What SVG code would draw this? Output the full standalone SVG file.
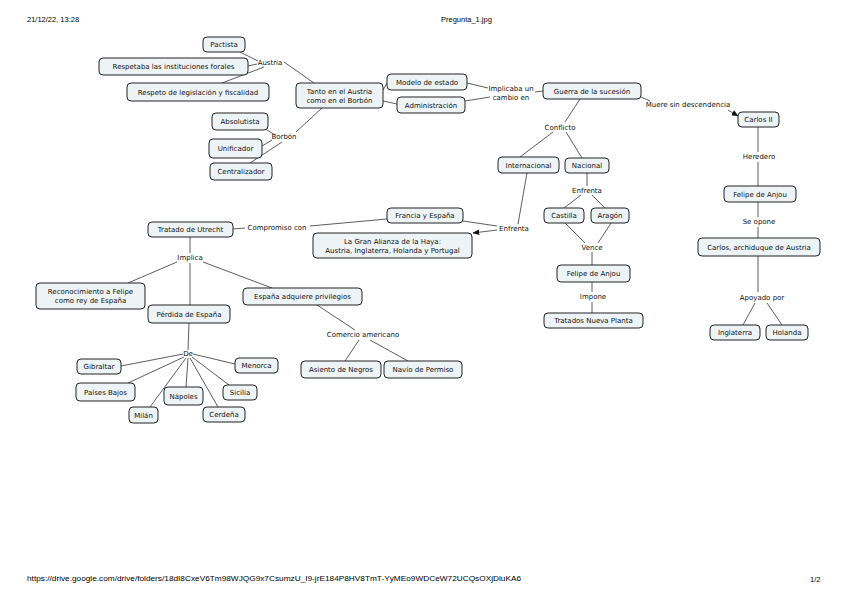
<svg xmlns="http://www.w3.org/2000/svg" width="848" height="599" viewBox="0 0 848 599">
<defs>
<style>
.n rect{fill:#eef3f6;stroke:#222;stroke-width:1}
.n text,.lb{font-family:"DejaVu Sans",sans-serif;font-size:7px;fill:#111;text-anchor:middle}
.c line,.c polyline{stroke:#333;stroke-width:0.8;fill:none}
.hd{font-family:"Liberation Sans",Arial,sans-serif;font-size:7.5px;fill:#000}
</style>
<marker id="ar" viewBox="0 0 10 10" refX="9" refY="5" markerWidth="7" markerHeight="7" orient="auto" markerUnits="userSpaceOnUse"><path d="M0,1 L10,5 L0,9 z" fill="#111"/></marker>
</defs>
<rect width="848" height="599" fill="#fff"/>
<text class="hd" x="27" y="22">21/12/22, 13:28</text>
<text class="hd" x="441" y="22">Pregunta_1.jpg</text>
<text class="hd" x="27" y="581" textLength="494" lengthAdjust="spacingAndGlyphs">https://drive.google.com/drive/folders/18dI8CxeV6Tm98WJQG9x7CsumzU_I9-jrE184P8HV8TmT-YyMEo9WDCeW72UCQsOXjDluKA6</text>
<text class="hd" x="810" y="582">1/2</text>

<g class="c" id="connectors">
<line x1="240" y1="52" x2="258" y2="61"/>
<line x1="248" y1="66" x2="257" y2="64"/>
<line x1="222" y1="83" x2="264" y2="67"/>
<line x1="284" y1="62" x2="314" y2="83"/>
<line x1="322" y1="108" x2="296" y2="132"/>
<line x1="275" y1="135" x2="264" y2="128"/>
<line x1="272" y1="140" x2="262" y2="146"/>
<line x1="282" y1="142" x2="250" y2="163"/>
<line x1="383" y1="90" x2="387" y2="83"/>
<line x1="383" y1="101" x2="397" y2="104"/>
<line x1="467" y1="83" x2="488" y2="88"/>
<line x1="465" y1="101" x2="490" y2="97"/>
<line x1="535" y1="92" x2="543" y2="91"/>
<line x1="580" y1="99" x2="565" y2="122"/>
<line x1="553" y1="132" x2="520" y2="157"/>
<line x1="566" y1="132" x2="582" y2="158"/>
<line x1="641" y1="97" x2="650" y2="101"/>
<line x1="728" y1="110" x2="738" y2="116" marker-end="url(#ar)"/>
<line x1="758" y1="127" x2="758" y2="152"/>
<line x1="758" y1="162" x2="758" y2="186"/>
<line x1="758" y1="202" x2="758" y2="217"/>
<line x1="758" y1="227" x2="758" y2="238"/>
<line x1="758" y1="256" x2="758" y2="292"/>
<line x1="755" y1="303" x2="743" y2="325"/>
<line x1="767" y1="303" x2="782" y2="325"/>
<line x1="587" y1="173" x2="587" y2="186"/>
<line x1="581" y1="195" x2="564" y2="208"/>
<line x1="592" y1="195" x2="605" y2="208"/>
<line x1="565" y1="223" x2="585" y2="243"/>
<line x1="611" y1="223" x2="598" y2="243"/>
<line x1="592" y1="252" x2="592" y2="265"/>
<line x1="592" y1="282" x2="592" y2="292"/>
<line x1="592" y1="302" x2="592" y2="313"/>
<line x1="527" y1="173" x2="518" y2="224"/>
<line x1="463" y1="221" x2="497" y2="226"/>
<line x1="497" y1="230" x2="473" y2="233" marker-end="url(#ar)"/>
<line x1="233" y1="229" x2="245" y2="228"/>
<line x1="310" y1="226" x2="387" y2="219"/>
<line x1="190" y1="237" x2="190" y2="253"/>
<line x1="177" y1="262" x2="128" y2="283"/>
<line x1="190" y1="263" x2="190" y2="305"/>
<line x1="203" y1="262" x2="272" y2="288"/>
<line x1="189" y1="323" x2="188" y2="350"/>
<line x1="183" y1="354" x2="121" y2="366"/>
<line x1="193" y1="354" x2="235" y2="364"/>
<line x1="184" y1="357" x2="128" y2="383"/>
<line x1="186" y1="358" x2="150" y2="407"/>
<line x1="188" y1="358" x2="186" y2="387"/>
<line x1="190" y1="358" x2="218" y2="407"/>
<line x1="192" y1="357" x2="229" y2="385"/>
<line x1="317" y1="305" x2="355" y2="330"/>
<line x1="359" y1="340" x2="345" y2="361"/>
<line x1="370" y1="340" x2="408" y2="361"/>
</g>

<g id="labels">
<text class="lb" x="270" y="65">Austria</text>
<text class="lb" x="284" y="139">Borbón</text>
<text class="lb" x="511" y="91">Implicaba un</text>
<text class="lb" x="511" y="100">cambio en</text>
<text class="lb" x="688" y="107">Muere sin descendencia</text>
<text class="lb" x="759" y="159">Heredero</text>
<text class="lb" x="759" y="224">Se opone</text>
<text class="lb" x="762" y="300">Apoyado por</text>
<text class="lb" x="560" y="130">Conflicto</text>
<text class="lb" x="587" y="193">Enfrenta</text>
<text class="lb" x="592" y="250">Vence</text>
<text class="lb" x="593" y="299">Impone</text>
<text class="lb" x="514" y="231">Enfrenta</text>
<text class="lb" x="277" y="230">Compromiso con</text>
<text class="lb" x="190" y="260">Implica</text>
<text class="lb" x="188" y="356">De</text>
<text class="lb" x="363" y="337">Comercio americano</text>
</g>

<g class="n" id="pactista"><rect x="203" y="37" width="42" height="15" rx="4"/><text x="224" y="47">Pactista</text></g>
<g class="n" id="respetaba"><rect x="99" y="58" width="149" height="17" rx="4"/><text x="173.5" y="69">Respetaba las instituciones forales</text></g>
<g class="n" id="respeto"><rect x="127" y="83" width="142" height="18" rx="4"/><text x="198" y="94.5">Respeto de legislación y fiscalidad</text></g>
<g class="n" id="absolutista"><rect x="212" y="113" width="56" height="17" rx="4"/><text x="240" y="124">Absolutista</text></g>
<g class="n" id="unificador"><rect x="209" y="139" width="53" height="19" rx="4"/><text x="235.5" y="151">Unificador</text></g>
<g class="n" id="centralizador"><rect x="210" y="163" width="62" height="17" rx="4"/><text x="241" y="174">Centralizador</text></g>
<g class="n" id="tanto"><rect x="296" y="83" width="87" height="25" rx="4"/><text x="339.5" y="94">Tanto en el Austria</text><text x="339.5" y="103">como en el Borbón</text></g>
<g class="n" id="modelo"><rect x="387" y="74" width="80" height="16" rx="4"/><text x="427" y="84.5">Modelo de estado</text></g>
<g class="n" id="administracion"><rect x="397" y="97" width="68" height="16" rx="4"/><text x="431" y="107.5">Administración</text></g>
<g class="n" id="guerra"><rect x="543" y="83" width="98" height="16" rx="4"/><text x="592" y="93.5">Guerra de la sucesión</text></g>
<g class="n" id="carlos2"><rect x="738" y="112" width="41" height="15" rx="4"/><text x="758.5" y="122">Carlos II</text></g>
<g class="n" id="felipe-r"><rect x="724" y="186" width="72" height="16" rx="4"/><text x="760" y="196.5">Felipe de Anjou</text></g>
<g class="n" id="carlos-archiduque"><rect x="698" y="238" width="122" height="18" rx="4"/><text x="759" y="249.5">Carlos, archiduque de Austria</text></g>
<g class="n" id="inglaterra"><rect x="710" y="325" width="50" height="15" rx="4"/><text x="735" y="335">Inglaterra</text></g>
<g class="n" id="holanda"><rect x="766" y="325" width="42" height="15" rx="4"/><text x="787" y="335">Holanda</text></g>
<g class="n" id="internacional"><rect x="498" y="157" width="61" height="16" rx="4"/><text x="528.5" y="167.5">Internacional</text></g>
<g class="n" id="nacional"><rect x="565" y="158" width="44" height="15" rx="4"/><text x="587" y="168">Nacional</text></g>
<g class="n" id="castilla"><rect x="544" y="208" width="40" height="15" rx="4"/><text x="564" y="218">Castilla</text></g>
<g class="n" id="aragon"><rect x="591" y="208" width="38" height="15" rx="4"/><text x="610" y="218">Aragón</text></g>
<g class="n" id="felipe-c"><rect x="557" y="265" width="73" height="17" rx="4"/><text x="593.5" y="276">Felipe de Anjou</text></g>
<g class="n" id="tratados"><rect x="544" y="313" width="99" height="15" rx="4"/><text x="593.5" y="323">Tratados Nueva Planta</text></g>
<g class="n" id="francia"><rect x="387" y="208" width="76" height="15" rx="4"/><text x="425" y="218">Francia y España</text></g>
<g class="n" id="alianza"><rect x="313" y="233" width="159" height="25" rx="4"/><text x="392.5" y="244">La Gran Alianza de la Haya:</text><text x="392.5" y="253">Austria, Inglaterra, Holanda y Portugal</text></g>
<g class="n" id="utrecht"><rect x="148" y="222" width="85" height="15" rx="4"/><text x="190.5" y="232">Tratado de Utrecht</text></g>
<g class="n" id="reconocimiento"><rect x="36" y="283" width="109" height="26" rx="4"/><text x="90.5" y="294">Reconocimiento a Felipe</text><text x="90.5" y="303">como rey de España</text></g>
<g class="n" id="perdida"><rect x="148" y="305" width="82" height="18" rx="4"/><text x="189" y="316.5">Pérdida de España</text></g>
<g class="n" id="adquiere"><rect x="243" y="288" width="119" height="17" rx="4"/><text x="302.5" y="299">España adquiere privilegios</text></g>
<g class="n" id="asiento"><rect x="301" y="361" width="80" height="17" rx="4"/><text x="341" y="372">Asiento de Negros</text></g>
<g class="n" id="navio"><rect x="384" y="361" width="78" height="17" rx="4"/><text x="423" y="372">Navío de Permiso</text></g>
<g class="n" id="gibraltar"><rect x="77" y="359" width="44" height="15" rx="4"/><text x="99" y="369">Gibraltar</text></g>
<g class="n" id="menorca"><rect x="235" y="358" width="43" height="15" rx="4"/><text x="256.5" y="368">Menorca</text></g>
<g class="n" id="paises-bajos"><rect x="76" y="383" width="59" height="18" rx="4"/><text x="105.5" y="394.5">Países Bajos</text></g>
<g class="n" id="napoles"><rect x="164" y="387" width="39" height="18" rx="4"/><text x="183.5" y="398.5">Nápoles</text></g>
<g class="n" id="sicilia"><rect x="223" y="385" width="34" height="15" rx="4"/><text x="240" y="395">Sicilia</text></g>
<g class="n" id="milan"><rect x="129" y="407" width="29" height="16" rx="4"/><text x="143.5" y="417.5">Milán</text></g>
<g class="n" id="cerdena"><rect x="203" y="407" width="42" height="15" rx="4"/><text x="224" y="417">Cerdeña</text></g>
</svg>
